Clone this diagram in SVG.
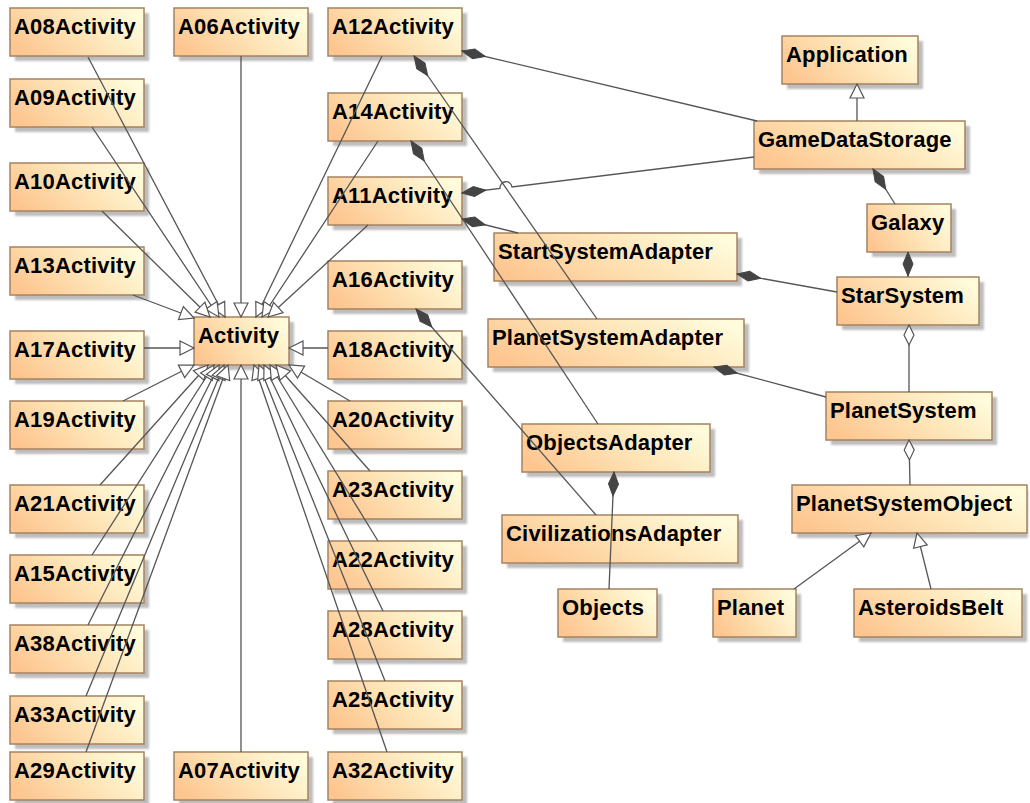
<svg xmlns="http://www.w3.org/2000/svg" width="1030" height="803" viewBox="0 0 1030 803">
  <defs>
    <linearGradient id="fillGrad" x1="0" y1="0.7" x2="1" y2="0.3">
      <stop offset="0" stop-color="#fdc690"/>
      <stop offset="0.55" stop-color="#fee5b8"/>
      <stop offset="1" stop-color="#fffbdb"/>
    </linearGradient>
    <filter id="soft" x="-10%" y="-10%" width="130%" height="140%">
      <feGaussianBlur stdDeviation="1"/>
    </filter>
    <!-- hollow triangle: generalization -->
    <marker id="gen" viewBox="-16 -9 18 18" refX="0" refY="0" markerWidth="18" markerHeight="18" markerUnits="userSpaceOnUse" orient="auto">
      <path d="M0,0 L-14,-7 L-14,7 Z" fill="#ffffff" stroke="#555555" stroke-width="1.2"/>
    </marker>
    <!-- filled diamond: composition -->
    <marker id="comp" viewBox="-1 -7 27 14" refX="0" refY="0" markerWidth="27" markerHeight="14" markerUnits="userSpaceOnUse" orient="auto">
      <path d="M0,0 L12,-5 L24,0 L12,5 Z" fill="#444444" stroke="#444444" stroke-width="1"/>
    </marker>
    <!-- hollow diamond: aggregation -->
    <marker id="agg" viewBox="-1 -7 27 14" refX="0" refY="0" markerWidth="27" markerHeight="14" markerUnits="userSpaceOnUse" orient="auto">
      <path d="M0,0 L10,-5 L20,0 L10,5 Z" fill="#ffffff" stroke="#555555" stroke-width="1.2"/>
    </marker>
  </defs>
  <style>
    .sh { fill: #bdbdbd; filter: url(#soft); }
    .box { fill: url(#fillGrad); stroke: #a58262; stroke-width: 1.5; }
    .lbl { font-family: "Liberation Sans", Arial, sans-serif; font-weight: bold; font-size: 22px; letter-spacing: 0.2px; fill: #000000; }
    .c { fill: none; stroke: #555555; stroke-width: 1.3; }
    .g { marker-end: url(#gen); }
    .k { marker-start: url(#comp); }
    .a { marker-start: url(#agg); }
  </style>

  <rect width="1030" height="803" fill="#ffffff"/>

  <!-- left column -->
  <g id="A08Activity"><rect class="sh" x="15" y="13" width="134" height="48"/><rect class="box" x="10" y="8" width="134" height="48"/><text class="lbl" x="14" y="34">A08Activity</text></g>
  <g id="A09Activity"><rect class="sh" x="15" y="84" width="134" height="48"/><rect class="box" x="10" y="79" width="134" height="48"/><text class="lbl" x="14" y="105">A09Activity</text></g>
  <g id="A10Activity"><rect class="sh" x="15" y="168" width="134" height="48"/><rect class="box" x="10" y="163" width="134" height="48"/><text class="lbl" x="14" y="189">A10Activity</text></g>
  <g id="A13Activity"><rect class="sh" x="15" y="252" width="134" height="48"/><rect class="box" x="10" y="247" width="134" height="48"/><text class="lbl" x="14" y="273">A13Activity</text></g>
  <g id="A17Activity"><rect class="sh" x="15" y="336" width="134" height="48"/><rect class="box" x="10" y="331" width="134" height="48"/><text class="lbl" x="14" y="357">A17Activity</text></g>
  <g id="A19Activity"><rect class="sh" x="15" y="406" width="134" height="48"/><rect class="box" x="10" y="401" width="134" height="48"/><text class="lbl" x="14" y="427">A19Activity</text></g>
  <g id="A21Activity"><rect class="sh" x="15" y="490" width="134" height="48"/><rect class="box" x="10" y="485" width="134" height="48"/><text class="lbl" x="14" y="511">A21Activity</text></g>
  <g id="A15Activity"><rect class="sh" x="15" y="560" width="134" height="48"/><rect class="box" x="10" y="555" width="134" height="48"/><text class="lbl" x="14" y="581">A15Activity</text></g>
  <g id="A38Activity"><rect class="sh" x="15" y="630" width="134" height="48"/><rect class="box" x="10" y="625" width="134" height="48"/><text class="lbl" x="14" y="651">A38Activity</text></g>
  <g id="A33Activity"><rect class="sh" x="15" y="701" width="134" height="48"/><rect class="box" x="10" y="696" width="134" height="48"/><text class="lbl" x="14" y="722">A33Activity</text></g>
  <g id="A29Activity"><rect class="sh" x="15" y="757" width="134" height="48"/><rect class="box" x="10" y="752" width="134" height="48"/><text class="lbl" x="14" y="778">A29Activity</text></g>

  <!-- middle column -->
  <g id="A06Activity"><rect class="sh" x="179" y="13" width="134" height="48"/><rect class="box" x="174" y="8" width="134" height="48"/><text class="lbl" x="178" y="34">A06Activity</text></g>
  <g id="Activity"><rect class="sh" x="199" y="322" width="95" height="48"/><rect class="box" x="194" y="317" width="95" height="48"/><text class="lbl" x="198" y="343">Activity</text></g>
  <g id="A07Activity"><rect class="sh" x="179" y="757" width="134" height="48"/><rect class="box" x="174" y="752" width="134" height="48"/><text class="lbl" x="178" y="778">A07Activity</text></g>

  <!-- right column -->
  <g id="A12Activity"><rect class="sh" x="333" y="13" width="134" height="48"/><rect class="box" x="328" y="8" width="134" height="48"/><text class="lbl" x="332" y="34">A12Activity</text></g>
  <g id="A14Activity"><rect class="sh" x="333" y="98" width="134" height="48"/><rect class="box" x="328" y="93" width="134" height="48"/><text class="lbl" x="332" y="119">A14Activity</text></g>
  <g id="A11Activity"><rect class="sh" x="333" y="182" width="134" height="48"/><rect class="box" x="328" y="177" width="134" height="48"/><text class="lbl" x="332" y="203">A11Activity</text></g>
  <g id="A16Activity"><rect class="sh" x="333" y="266" width="134" height="48"/><rect class="box" x="328" y="261" width="134" height="48"/><text class="lbl" x="332" y="287">A16Activity</text></g>
  <g id="A18Activity"><rect class="sh" x="333" y="336" width="134" height="48"/><rect class="box" x="328" y="331" width="134" height="48"/><text class="lbl" x="332" y="357">A18Activity</text></g>
  <g id="A20Activity"><rect class="sh" x="333" y="406" width="134" height="48"/><rect class="box" x="328" y="401" width="134" height="48"/><text class="lbl" x="332" y="427">A20Activity</text></g>
  <g id="A23Activity"><rect class="sh" x="333" y="476" width="134" height="48"/><rect class="box" x="328" y="471" width="134" height="48"/><text class="lbl" x="332" y="497">A23Activity</text></g>
  <g id="A22Activity"><rect class="sh" x="333" y="546" width="134" height="48"/><rect class="box" x="328" y="541" width="134" height="48"/><text class="lbl" x="332" y="567">A22Activity</text></g>
  <g id="A28Activity"><rect class="sh" x="333" y="616" width="134" height="48"/><rect class="box" x="328" y="611" width="134" height="48"/><text class="lbl" x="332" y="637">A28Activity</text></g>
  <g id="A25Activity"><rect class="sh" x="333" y="686" width="134" height="48"/><rect class="box" x="328" y="681" width="134" height="48"/><text class="lbl" x="332" y="707">A25Activity</text></g>
  <g id="A32Activity"><rect class="sh" x="333" y="757" width="134" height="48"/><rect class="box" x="328" y="752" width="134" height="48"/><text class="lbl" x="332" y="778">A32Activity</text></g>

  <!-- model classes -->
  <g id="Application"><rect class="sh" x="787" y="41" width="136" height="48"/><rect class="box" x="782" y="36" width="136" height="48"/><text class="lbl" x="786" y="62">Application</text></g>
  <g id="GameDataStorage"><rect class="sh" x="759" y="126" width="211" height="48"/><rect class="box" x="754" y="121" width="211" height="48"/><text class="lbl" x="758" y="147">GameDataStorage</text></g>
  <g id="Galaxy"><rect class="sh" x="872" y="209" width="84" height="48"/><rect class="box" x="867" y="204" width="84" height="48"/><text class="lbl" x="871" y="230">Galaxy</text></g>
  <g id="StarSystem"><rect class="sh" x="842" y="282" width="142" height="48"/><rect class="box" x="837" y="277" width="142" height="48"/><text class="lbl" x="841" y="303">StarSystem</text></g>
  <g id="StartSystemAdapter"><rect class="sh" x="499" y="238" width="243" height="48"/><rect class="box" x="494" y="233" width="243" height="48"/><text class="lbl" x="498" y="259">StartSystemAdapter</text></g>
  <g id="PlanetSystemAdapter"><rect class="sh" x="493" y="324" width="256" height="48"/><rect class="box" x="488" y="319" width="256" height="48"/><text class="lbl" x="492" y="345">PlanetSystemAdapter</text></g>
  <g id="PlanetSystem"><rect class="sh" x="831" y="397" width="166" height="48"/><rect class="box" x="826" y="392" width="166" height="48"/><text class="lbl" x="830" y="418">PlanetSystem</text></g>
  <g id="ObjectsAdapter"><rect class="sh" x="527" y="429" width="188" height="48"/><rect class="box" x="522" y="424" width="188" height="48"/><text class="lbl" x="526" y="450">ObjectsAdapter</text></g>
  <g id="PlanetSystemObject"><rect class="sh" x="797" y="490" width="231" height="48"/><rect class="box" x="792" y="485" width="235" height="48"/><text class="lbl" x="796" y="511">PlanetSystemObject</text></g>
  <g id="CivilizationsAdapter"><rect class="sh" x="507" y="520" width="236" height="48"/><rect class="box" x="502" y="515" width="236" height="48"/><text class="lbl" x="506" y="541">CivilizationsAdapter</text></g>
  <g id="Objects"><rect class="sh" x="563" y="594" width="99" height="48"/><rect class="box" x="558" y="589" width="99" height="48"/><text class="lbl" x="562" y="615">Objects</text></g>
  <g id="Planet"><rect class="sh" x="718" y="594" width="83" height="48"/><rect class="box" x="713" y="589" width="83" height="48"/><text class="lbl" x="717" y="615">Planet</text></g>
  <g id="AsteroidsBelt"><rect class="sh" x="859" y="594" width="168" height="48"/><rect class="box" x="854" y="589" width="168" height="48"/><text class="lbl" x="858" y="615">AsteroidsBelt</text></g>

  <!-- connectors, drawn over the class boxes -->
  <g id="connectors">
    <!-- subclasses of Activity: top edge -->
    <path class="c g" d="M88,57 L225,317"/>
    <path class="c g" d="M92,127 L219,317"/>
    <path class="c g" d="M102,211 L210,317"/>
    <path class="c g" d="M241,56 L241,317"/>
    <path class="c g" d="M382,56 L256,317"/>
    <path class="c g" d="M378,141 L262,317"/>
    <path class="c g" d="M368,225 L268,317"/>
    <!-- sides and corners -->
    <path class="c g" d="M133,295 L194,318"/>
    <path class="c g" d="M144,348 L194,348"/>
    <path class="c g" d="M328,348 L289,348"/>
    <path class="c g" d="M123,401 L194,365"/>
    <path class="c g" d="M350,401 L289,365"/>
    <!-- bottom edge -->
    <path class="c g" d="M100,485 L208,365"/>
    <path class="c g" d="M92,555 L214,365"/>
    <path class="c g" d="M88,625 L219,365"/>
    <path class="c g" d="M86,696 L224,365"/>
    <path class="c g" d="M86,752 L228,365"/>
    <path class="c g" d="M241,752 L241,365"/>
    <path class="c g" d="M387,752 L254,365"/>
    <path class="c g" d="M385,681 L259,365"/>
    <path class="c g" d="M383,611 L264,365"/>
    <path class="c g" d="M378,541 L270,365"/>
    <path class="c g" d="M370,471 L276,365"/>

    <!-- compositions from activities -->
    <path class="c k" d="M462,51 L757,121"/>
    <path class="c k" d="M462,193 L500,188.5 A6,6 0 0 1 512,187 L754,157"/>
    <path class="c k" d="M462,219 L518,233"/>
    <path class="c k" d="M414,56 L597,319"/>
    <path class="c k" d="M411,141 L598,424"/>
    <path class="c k" d="M416,309 L596,515"/>

    <!-- model classes -->
    <path class="c g" d="M857,121 L857,84"/>
    <path class="c k" d="M873,169 L895,204"/>
    <path class="c k" d="M908,252 L908,277"/>
    <path class="c k" d="M737,274 L837,292"/>
    <path class="c k" d="M714,367 L826,397"/>
    <path class="c k" d="M614,472 L609,589"/>
    <path class="c a" d="M909,325 L909,392"/>
    <path class="c a" d="M909,440 L910,485"/>
    <path class="c g" d="M794,589 L871,533"/>
    <path class="c g" d="M931,589 L917,533"/>
  </g>
</svg>
